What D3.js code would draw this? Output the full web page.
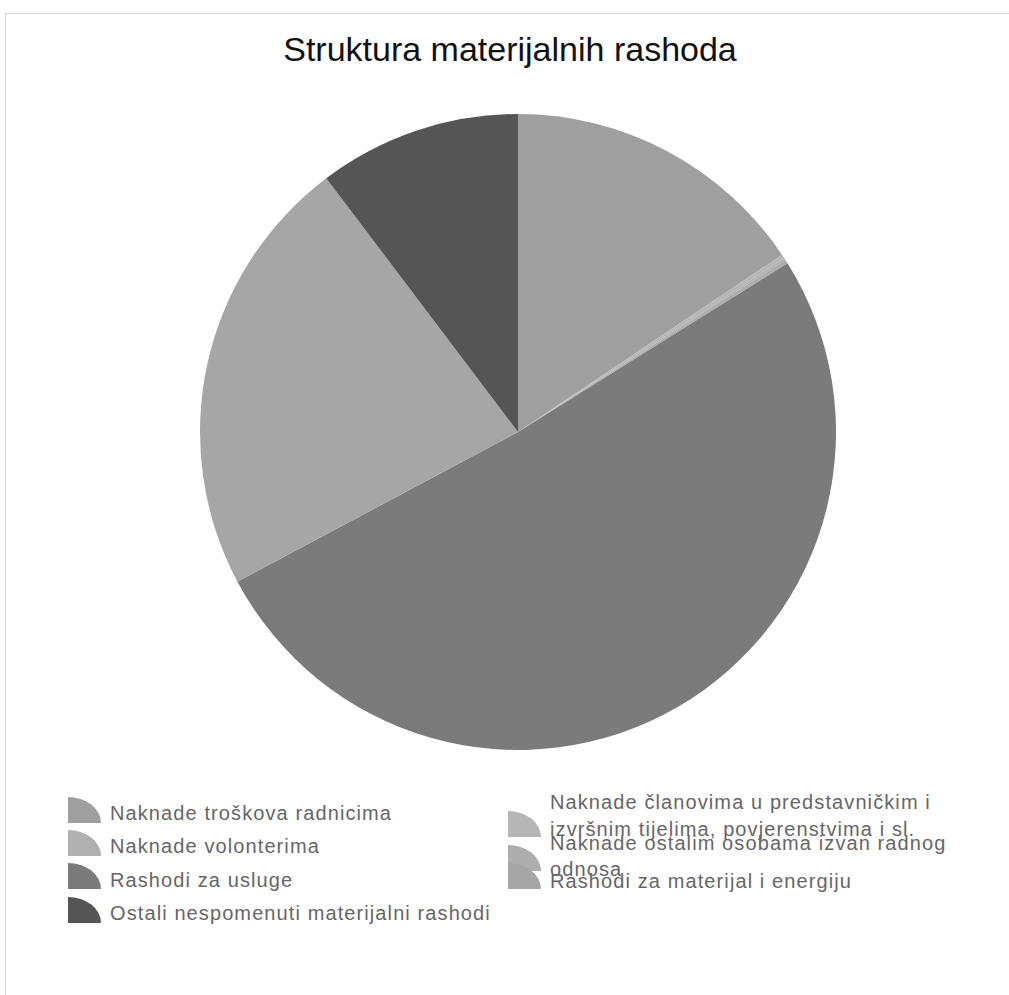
<!DOCTYPE html>
<html>
<head>
<meta charset="utf-8">
<script src="https://cdn.jsdelivr.net/npm/d3@7/dist/d3.min.js"></script>
<style>
  html, body { margin: 0; padding: 0; background: #ffffff; }
  svg { display: block; }
</style>
</head>
<body>
<svg id="chart" width="1009" height="995"></svg>
<script>
// ---- Data (percent shares) ----
const title = "Struktura materijalnih rashoda";
const categories = [
  "Naknade troškova radnicima",
  "Naknade članovima u predstavničkim i izvršnim tijelima, povjerenstvima i sl.",
  "Naknade volonterima",
  "Naknade ostalim osobama izvan radnog odnosa",
  "Rashodi za usluge",
  "Rashodi za materijal i energiju",
  "Ostali nespomenuti materijalni rashodi"
];
const values = [15.6, 0.2, 0.1, 0.2, 51.1, 22.5, 10.3];
const colors = ["#9f9f9f", "#b6b6b6", "#b0b0b0", "#adadad", "#7b7b7b", "#a6a6a6", "#555555"];
// legend text lines (wrapped as in the original)
const legendLines = [
  ["Naknade troškova radnicima"],
  ["Naknade članovima u predstavničkim i", "izvršnim tijelima, povjerenstvima i sl."],
  ["Naknade volonterima"],
  ["Naknade ostalim osobama izvan radnog", "odnosa"],
  ["Rashodi za usluge"],
  ["Rashodi za materijal i energiju"],
  ["Ostali nespomenuti materijalni rashodi"]
];

const svg = d3.select("#chart");

// frame
svg.append("rect").attr("x", 5.5).attr("y", 13.5).attr("width", 1010).attr("height", 1000)
  .attr("fill", "none").attr("stroke", "#d4d4d4").attr("stroke-width", 1);

// title
svg.append("text")
  .attr("x", 510).attr("y", 61)
  .attr("text-anchor", "middle")
  .attr("font-family", "Liberation Sans, Arial, sans-serif")
  .attr("font-size", 34)
  .attr("fill", "#111")
  .text(title);

// pie
const cx = 518, cy = 432, r = 318;
const pie = d3.pie().sort(null).value(d => d)(values);
const arc = d3.arc().innerRadius(0).outerRadius(r);
const g = svg.append("g").attr("transform", `translate(${cx},${cy})`);
g.selectAll("path").data(pie).enter().append("path")
  .attr("d", arc)
  .attr("fill", (d, i) => colors[i]);

// legend
const iconArc = d3.arc().innerRadius(0).outerRadius(1).startAngle(0).endAngle(Math.PI / 2);
const font = "Liberation Sans, Arial, sans-serif";
// layout: column 1 items 0,2,4,6 ; column 2 items 1,3,5
const layout = [
  {x: 68, iconY: 797, textY: [820]},
  {x: 508, iconY: 811, textY: [809, 836]},
  {x: 68, iconY: 830, textY: [853]},
  {x: 508, iconY: 845, textY: [850, 876]},
  {x: 68, iconY: 863, textY: [887]},
  {x: 508, iconY: 863, textY: [888]},
  {x: 68, iconY: 897, textY: [920]}
];
const lg = svg.append("g");
categories.forEach((c, i) => {
  const L = layout[i];
  lg.append("path")
    .attr("d", iconArc())
    .attr("transform", `translate(${L.x},${L.iconY + 26}) scale(33,26)`)
    .attr("fill", colors[i]);
  legendLines[i].forEach((line, j) => {
    lg.append("text")
      .attr("x", L.x + 42).attr("y", L.textY[j])
      .attr("font-family", font)
      .attr("font-size", 20)
      .attr("letter-spacing", 1.1)
      .attr("fill", "#666")
      .text(line);
  });
});
</script>
</body>
</html>
